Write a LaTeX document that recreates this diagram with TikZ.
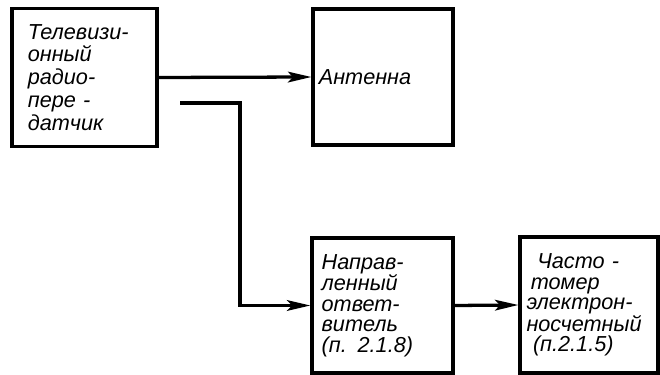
\documentclass[tikz,border=0pt]{standalone}
\usepackage{fontspec}
\setmainfont{Liberation Sans}
\usetikzlibrary{arrows.meta}
\begin{document}
\begin{tikzpicture}[x=0.03cm, y=-0.03cm,
  font=\fontsize{18.5}{17.5}\selectfont\itshape,
  unit/.style={draw, line width=2.8pt, inner sep=0pt, align=left,
    minimum width=4.2cm, minimum height=4.08cm},
  feed/.style={line width=2.8pt, -{Stealth[length=7mm, width=3.2mm, inset=1.5mm]}}]
  \useasboundingbox (0,0) rectangle (660,375);
  % Transmitter and antenna
  \node[unit, minimum width=4.35cm, minimum height=4.14cm, text width=3.4cm,
    font=\fontsize{18.5}{19.5}\selectfont\itshape]
    (tx) at (84.5,77.5) {Телевизи-\\онный\\радио-\\пере -\\датчик};
  \node[unit, text width=3.85cm] (ant) at (383,77) {Антенна};
  % Coupler and frequency meter
  \node[unit, minimum width=4.23cm, minimum height=4.05cm, text width=3.65cm]
    (dc) at (382.5,305.5) {Направ-\\ленный\\ответ-\\витель\\(п. 2.1.8)};
  \node[unit, minimum width=4.14cm, text width=3.75cm]
    (fm) at (589,305) {\hspace*{0.5em}Часто -\\\hspace*{0.2em}томер\\электрон-\\носчетный\\\hspace*{0.3em}(п.2.1.5)};
  % Connections
  \coordinate (br) at (180,103);
  \draw[feed] (tx.east) -- (ant.west);
  \draw[feed] (br) -- ++(60,0) |- (dc.west);
  \draw[feed] (dc.east) -- (fm.west);
\end{tikzpicture}
\end{document}
